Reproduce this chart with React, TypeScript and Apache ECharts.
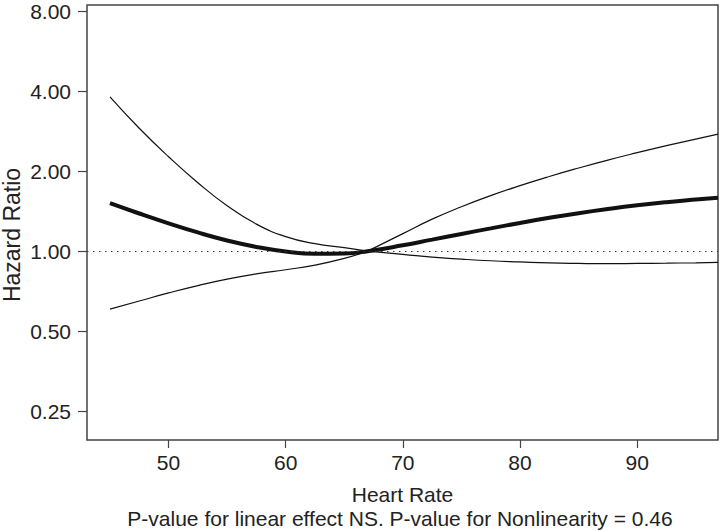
import React, { useEffect, useRef } from "react";
import * as echarts from "echarts";

// Heart rate grid (x)
const heartRate = [45, 47.5, 50, 52.5, 55, 57.5, 60, 62.5, 65, 67, 70, 72.5, 75, 77.5, 80, 82.5, 85, 87.5, 90, 92.5, 95, 96.9];
// Hazard ratio estimate
const hrEstimate = [1.516, 1.386, 1.273, 1.176, 1.097, 1.037, 0.997, 0.978, 0.980, 1.0, 1.052, 1.105, 1.161, 1.218, 1.277, 1.335, 1.390, 1.441, 1.488, 1.529, 1.564, 1.588];
// Upper 95% CI
const hrUpper = [3.81, 2.902, 2.268, 1.810, 1.483, 1.264, 1.134, 1.067, 1.031, 1.0, 1.164, 1.320, 1.470, 1.618, 1.764, 1.910, 2.056, 2.203, 2.348, 2.495, 2.643, 2.758];
// Lower 95% CI
const hrLower = [0.605, 0.649, 0.696, 0.742, 0.785, 0.821, 0.851, 0.886, 0.939, 1.0, 0.973, 0.949, 0.933, 0.920, 0.911, 0.903, 0.899, 0.897, 0.899, 0.901, 0.904, 0.907];
const refIndex = 9; // reference heart rate (HR = 1)

const yTickValues = [0.25, 0.5, 1, 2, 4, 8];
const xTickValues = [50, 60, 70, 80, 90];
const yMin = 0.1945;
const yMax = 8.45;
const xMin = 43.04;
const xMax = 96.9;

const FONT = "'Liberation Sans', Arial, Helvetica, sans-serif";
const TEXT = "#222";

const toPts = (ys: number[], from = 0, to = ys.length - 1) =>
  heartRate.slice(from, to + 1).map((x, i) => [x, Math.log2(ys[from + i])]);

export default function App() {
  const ref = useRef<HTMLDivElement>(null);
  useEffect(() => {
    if (!ref.current) return;
    const chart = echarts.init(ref.current, undefined, { renderer: "svg" });
    const thin = { color: "#111", width: 1.2 };
    const thinSeries = (name: string, data: number[][]) => ({
      name,
      type: "line",
      data,
      smooth: true,
      symbol: "none",
      lineStyle: thin,
      z: 3,
    });
    chart.setOption({
      animation: false,
      grid: {
        left: 87,
        top: 5,
        right: 2,
        bottom: 91,
        show: true,
        borderColor: "#444",
        borderWidth: 1.5,
        backgroundColor: "transparent",
      },
      xAxis: {
        type: "value",
        min: xMin,
        max: xMax,
        axisLine: { show: false, onZero: false },
        splitLine: { show: false },
        axisTick: { show: true, length: 8, lineStyle: { color: "#444", width: 1.2 }, customValues: xTickValues },
        axisLabel: {
          customValues: xTickValues,
          margin: 12,
          fontSize: 21,
          fontFamily: FONT,
          color: TEXT,
        },
        name: "Heart Rate",
        nameLocation: "middle",
        nameGap: 44,
        nameTextStyle: { fontSize: 21, fontFamily: FONT, color: TEXT },
      },
      yAxis: {
        type: "value",
        min: Math.log2(yMin),
        max: Math.log2(yMax),
        axisLine: { show: false, onZero: false },
        splitLine: { show: false },
        axisTick: {
          show: true,
          length: 9,
          lineStyle: { color: "#444", width: 1.2 },
          customValues: yTickValues.map((v) => Math.log2(v)),
        },
        axisLabel: {
          customValues: yTickValues.map((v) => Math.log2(v)),
          formatter: (v: number) => Math.pow(2, v).toFixed(2),
          margin: 16,
          fontSize: 21,
          fontFamily: FONT,
          color: TEXT,
        },
      },
      graphic: [
        {
          type: "text",
          x: 12,
          y: 235,
          rotation: Math.PI / 2,
          style: {
            text: "Hazard Ratio",
            fontSize: 23,
            fontFamily: FONT,
            fill: TEXT,
            align: "center",
            verticalAlign: "middle",
          },
        },
        {
          type: "text",
          x: 400,
          y: 518,
          style: {
            text: "P-value for linear effect NS. P-value for Nonlinearity = 0.46",
            fontSize: 21,
            fontFamily: FONT,
            fill: TEXT,
            align: "center",
            verticalAlign: "middle",
          },
        },
      ],
      series: [
        {
          name: "Hazard Ratio",
          type: "line",
          data: toPts(hrEstimate),
          smooth: true,
          symbol: "none",
          lineStyle: { color: "#111", width: 4 },
          z: 4,
          markLine: {
            silent: true,
            symbol: "none",
            label: { show: false },
            lineStyle: { color: "#333", width: 1.2, type: [1.5, 4.5] },
            data: [{ yAxis: 0 }],
          },
        },
        thinSeries("Upper CI (left)", toPts(hrUpper, 0, refIndex)),
        thinSeries("Upper CI (right)", toPts(hrUpper, refIndex)),
        thinSeries("Lower CI (left)", toPts(hrLower, 0, refIndex)),
        thinSeries("Lower CI (right)", toPts(hrLower, refIndex)),
      ],
    });
    return () => chart.dispose();
  }, []);
  return <div ref={ref} style={{ width: 720, height: 531, position: "absolute", left: 0, top: 0 }} />;
}
